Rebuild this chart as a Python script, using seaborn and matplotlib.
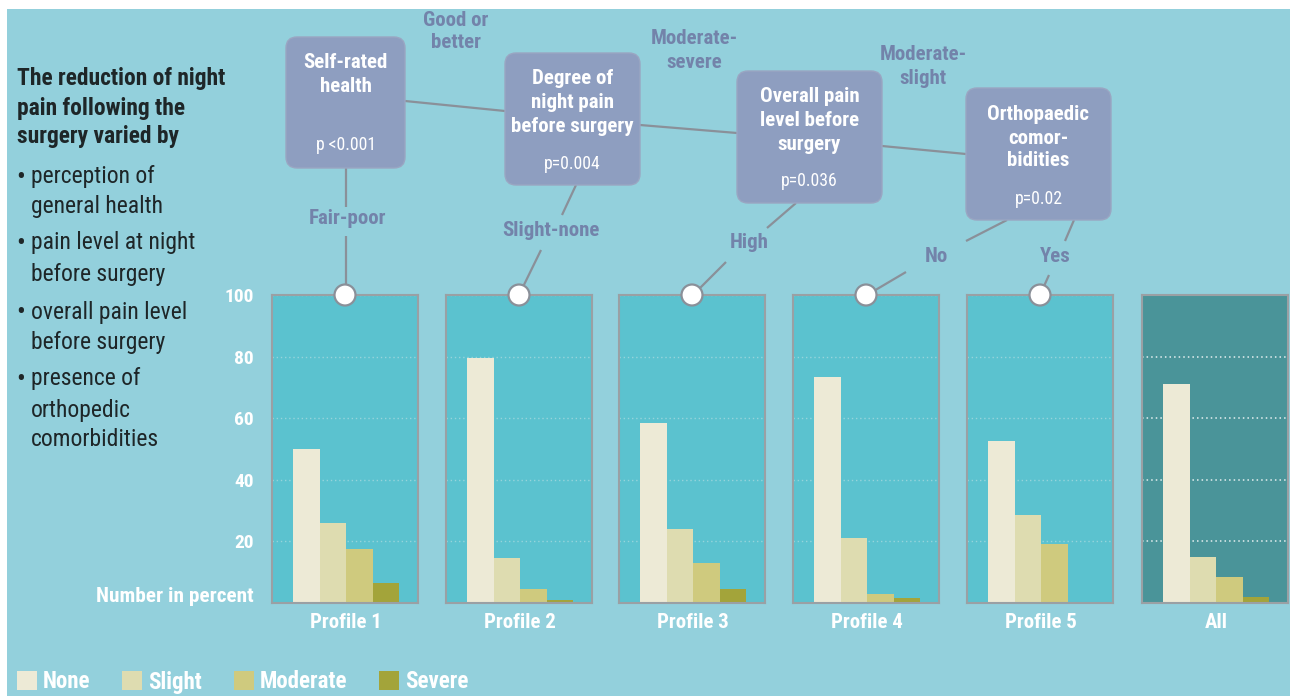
import numpy as np
import pandas as pd
import matplotlib
matplotlib.use("Agg")
import matplotlib.pyplot as plt
from matplotlib.patches import FancyBboxPatch, Circle, Rectangle, Patch
import seaborn as sns

# ---------------------------------------------------------------------------
# data (percent of patients per night-pain level after surgery)
# ---------------------------------------------------------------------------
profiles = ['Profile 1', 'Profile 2', 'Profile 3', 'Profile 4', 'Profile 5', 'All']
levels = ['None', 'Slight', 'Moderate', 'Severe']
none_pct = [50, 79.5, 58.5, 73.5, 52.5, 71]
slight_pct = [26, 14.5, 24, 21, 28.5, 15]
moderate_pct = [17.5, 4.5, 13, 3, 19, 8.5]
severe_pct = [6.5, 1, 4.5, 1.5, 0, 2]
y_ticks = [20, 40, 60, 80, 100]

rows = []
for i, p in enumerate(profiles):
    for lev, vals in zip(levels, [none_pct, slight_pct, moderate_pct, severe_pct]):
        rows.append({'profile': p, 'level': lev, 'pct': vals[i]})
df = pd.DataFrame(rows)

# ---------------------------------------------------------------------------
# style
# ---------------------------------------------------------------------------
sns.set_style("white")
plt.rcParams['font.family'] = ['Roboto Condensed', 'Archivo Narrow', 'DejaVu Sans']
plt.rcParams['font.stretch'] = 'condensed'

BG = '#93D0DC'
PANEL = '#5BC2CF'
PANEL_ALL = '#4A9499'
EDGE = '#9AA0A4'
BOX = '#8E9EC0'
BRANCH = '#7383AA'
DARK = '#1E2628'
palette = {'None': '#EDEAD6', 'Slight': '#DEDCB0', 'Moderate': '#CFCA7E', 'Severe': '#A3A43A'}

W, H = 1290, 696
fig = plt.figure(figsize=(W / 100, H / 100), dpi=100, facecolor='white')
fig.add_artist(Rectangle((7 / W, 0), 1, 1 - 9 / H, transform=fig.transFigure,
                         facecolor=BG, edgecolor='none', zorder=0))


def rect(x0, y0, x1, y1):
    return [x0 / W, 1 - y1 / H, (x1 - x0) / W, (y1 - y0) / H]


# ---------------------------------------------------------------------------
# bar panels
# ---------------------------------------------------------------------------
panel_left = [272, 446, 619, 793, 967, 1142]
panel_w = 146
top, bottom = 295, 603
axes = []
for i, p in enumerate(profiles):
    ax = fig.add_axes(rect(panel_left[i], top, panel_left[i] + panel_w, bottom))
    sub = df[df['profile'] == p]
    sns.barplot(data=sub, x='profile', y='pct', hue='level', hue_order=levels,
                palette=palette, saturation=1, errorbar=None, legend=False,
                linewidth=0, width=0.8, ax=ax)
    ax.set_facecolor(PANEL_ALL if p == 'All' else PANEL)
    ax.set_ylim(0, 100)
    ax.set_xlim(-0.5585, 0.5434)
    ax.set_yticks(y_ticks)
    ax.set_axisbelow(True)
    if p == 'All':
        ax.grid(axis='y', color='white', linestyle=(0, (1, 2)), linewidth=1.1, alpha=0.85)
    else:
        ax.grid(axis='y', color='#A6D9DF', linestyle=(0, (1, 2)), linewidth=1.0, alpha=0.8)
    ax.set_xlabel('')
    ax.set_ylabel('')
    for s in ax.spines.values():
        s.set_visible(True)
        s.set_color(EDGE)
        s.set_linewidth(1.5)
    ax.tick_params(axis='x', length=0, pad=7, labelsize=15, labelcolor='white')
    for t in ax.get_xticklabels():
        t.set_fontweight('bold')
    if i == 0:
        ax.tick_params(axis='y', length=0, pad=13, labelsize=14, labelcolor='white')
        for t in ax.get_yticklabels():
            t.set_fontweight('bold')
    else:
        ax.tick_params(axis='y', length=0, labelleft=False)
    axes.append(ax)

fig.text(254 / W, 1 - 596 / H, 'Number in percent', ha='right', va='center',
         fontsize=15.3, fontweight='bold', color='white')

# ---------------------------------------------------------------------------
# overlay: decision tree
# ---------------------------------------------------------------------------
ov = fig.add_axes([0, 0, 1, 1], zorder=10)
ov.set_xlim(0, W)
ov.set_ylim(H, 0)
ov.axis('off')
ov.patch.set_alpha(0)

LINE = dict(color='#8A9099', linewidth=1.6, zorder=1, solid_capstyle='butt')

# connectors between boxes
ov.plot([405, 505], [101, 111], **LINE)
ov.plot([640, 737], [125, 133], **LINE)
ov.plot([882, 966], [146, 154], **LINE)
# box 1 -> profile 1
ov.plot([346, 346], [168, 207], **LINE)
ov.plot([346, 346], [236, 295], **LINE)
# box 2 -> profile 2
ov.plot([576, 562], [185, 215], **LINE)
ov.plot([541, 519], [250, 295], **LINE)
# box 3 -> profile 3
ov.plot([796, 767], [203, 228], **LINE)
ov.plot([726, 693], [262, 295], **LINE)
# box 4 -> profiles 4 and 5
ov.plot([1007, 966], [220, 241], **LINE)
ov.plot([906, 867], [272, 295], **LINE)
ov.plot([1074, 1065], [220, 241], **LINE)
ov.plot([1049, 1040], [275, 295], **LINE)

boxes = [
    (286, 37, 405, 168, ['Self-rated', 'health'], [63, 87], 'p <0.001', 145),
    (505, 53, 640, 185, ['Degree of', 'night pain', 'before surgery'], [79, 103, 126], 'p=0.004', 164),
    (737, 71, 882, 203, ['Overall pain', 'level before', 'surgery'], [97, 120, 144], 'p=0.036', 181),
    (966, 88, 1111, 220, ['Orthopaedic', 'comor-', 'bidities'], [114, 138, 161], 'p=0.02', 199),
]
for x0, y0, x1, y1, lines, ys, pv, py in boxes:
    ov.add_patch(FancyBboxPatch((x0, y0), x1 - x0, y1 - y0,
                                boxstyle='round,pad=0,rounding_size=11',
                                facecolor=BOX, edgecolor='#9AA6C2', linewidth=1, zorder=2))
    cx = (x0 + x1) / 2
    for s, yy in zip(lines, ys):
        ov.text(cx, yy, s, ha='center', va='center', color='white',
                fontsize=15, fontweight='bold', zorder=3)
    ov.text(cx, py, pv, ha='center', va='center', color='white', fontsize=12.7, zorder=3)

branch_labels = [
    (456, [20, 43], ['Good or', 'better']),
    (694, [38, 62], ['Moderate-', 'severe']),
    (923, [54, 78], ['Moderate-', 'slight']),
    (347, [218], ['Fair-poor']),
    (551, [230], ['Slight-none']),
    (749, [243], ['High']),
    (936, [256], ['No']),
    (1055, [256], ['Yes']),
]
for cx, ys, lines in branch_labels:
    for s, yy in zip(lines, ys):
        ov.text(cx, yy, s, ha='center', va='center', color=BRANCH,
                fontsize=15, fontweight='bold', zorder=3)

# node circles on top of each profile panel
for x0 in panel_left[:5]:
    ov.add_patch(Circle((x0 + panel_w / 2, top), 10.5, facecolor='white',
                        edgecolor='#8A9099', linewidth=1.6, zorder=4))

# ---------------------------------------------------------------------------
# left description
# ---------------------------------------------------------------------------
heading = ['The reduction of night', 'pain following the', 'surgery varied by']
for s, yy in zip(heading, [79, 108, 137]):
    ov.text(17, yy, s, ha='left', va='center', color=DARK, fontsize=16.9, fontweight='bold')

bullets = [
    (177, '\u2022', 'perception of'), (206, '', 'general health'),
    (243, '\u2022', 'pain level at night'), (274, '', 'before surgery'),
    (312, '\u2022', 'overall pain level'), (342, '', 'before surgery'),
    (379, '\u2022', 'presence of'), (410, '', 'orthopedic'),
    (439, '', 'comorbidities'),
]
for yy, b, s in bullets:
    if b:
        ov.text(16, yy + 1, b, ha='left', va='center', color=DARK, fontsize=19)
    ov.text(31, yy, s, ha='left', va='center', color=DARK, fontsize=17)

# ---------------------------------------------------------------------------
# legend
# ---------------------------------------------------------------------------
handles = [Patch(facecolor=palette[l], edgecolor='none', label=l) for l in levels]
leg = fig.legend(handles=handles, loc='center left', bbox_to_anchor=(17 / W, 1 - 682 / H),
                 ncol=4, frameon=False, handlelength=0.87, handleheight=0.87,
                 handletextpad=0.25, columnspacing=1.4, borderpad=0, borderaxespad=0,
                 prop={'size': 16.5, 'weight': 'bold'})
for t in leg.get_texts():
    t.set_color('white')

fig.savefig('out.png', dpi=100, facecolor='white')
